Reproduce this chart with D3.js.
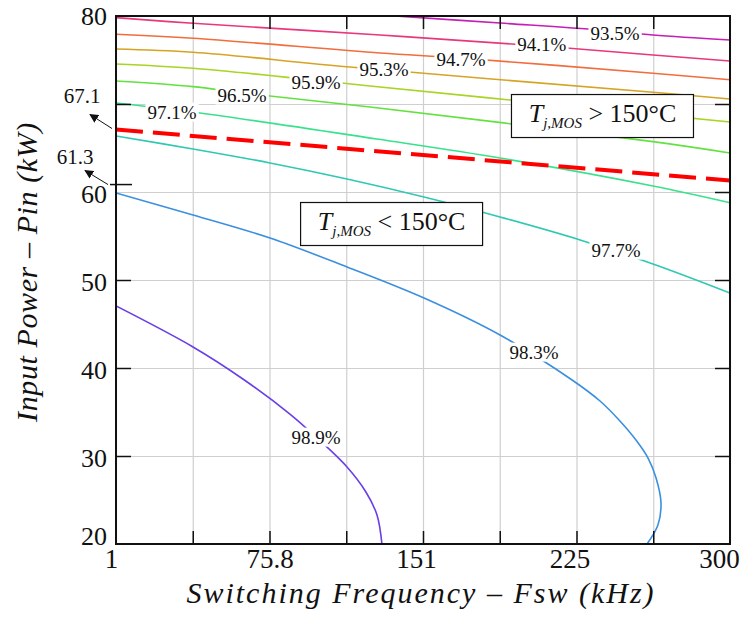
<!DOCTYPE html>
<html>
<head>
<script src="https://d3js.org/d3.v7.min.js"></script>
<style>
    body { margin: 0; background: #fff; }
    text { font-family: "Liberation Serif", "Times New Roman", serif; fill: #111; }
    .grid line { stroke: #cfcfcf; stroke-width: 1.2px; }
    .grid path { display: none; }
    .ticks line { stroke: #111; stroke-width: 1.5px; }
    .ticks path { display: none; }
    .ticks text { display: none; }
</style>
</head>
<body>
<svg id="chart" width="744" height="618"></svg>
<script>
// efficiency levels and colours of the contour lines
var levels = ["93.5", "94.1", "94.7", "95.3", "95.9", "96.5", "97.1", "97.7", "98.3", "98.9"];
var lineColors = ["#c51fb6", "#e8387c", "#f26d3d", "#d6a424", "#a8d424", "#62e23e", "#38e28c", "#2fc8b2", "#3b8fe0", "#6a3fe6"];

// contour traces [frequency kHz, power kW]
var c935 = [[136.9, 80], [188.0, 79.2], [236.7, 78.41], [262.5, 77.84], [300, 77.27]];
var c941 = [[1, 79.81], [38.5, 79.17], [129.6, 77.84], [208.4, 76.59], [262.5, 75.57], [300, 74.89]];
var c947 = [[1, 77.92], [38.5, 77.47], [129.6, 75.8], [168.5, 75.23], [262.5, 73.49], [300, 72.76]];
var c953 = [[1, 76.25], [38.5, 75.88], [114.9, 74.2], [262.5, 71.33], [300, 70.57]];
var c959 = [[1, 74.55], [38.5, 74.06], [96.9, 72.73], [124.7, 72.05], [212.3, 70.0], [300, 67.95]];
var c965 = [[1, 72.61], [38.5, 71.97], [62.4, 71.25], [124.7, 69.66], [262.5, 65.72], [300, 64.43]];
var c971 = [[1, 70.11], [41.9, 68.98], [128.1, 66.02], [188.0, 63.86], [262.5, 60.68], [300, 58.78]];
var c977 = [[1, 66.36], [38.5, 64.89], [76.0, 63.3], [113.5, 61.48], [151.0, 59.43], [188.0, 57.16],
            [227.0, 54.55], [262.5, 51.82], [300, 48.52]];
var c983 = [[1, 59.89], [38.5, 57.39], [76.0, 54.77], [113.5, 51.48], [151.0, 47.95], [188.0, 43.75],
            [223.1, 38.64], [236.7, 36.25], [246.4, 33.98], [254.2, 31.82], [260.1, 29.77],
            [264.0, 27.5], [266.4, 24.66], [264.9, 22.16], [259.6, 20.0]];
var c989 = [[1, 47.05], [38.5, 42.39], [62.8, 38.75], [85.7, 34.77], [98.4, 32.16], [113.5, 28.75],
            [122.7, 25.91], [128.1, 23.3], [130.5, 20.0]];
var contours = [c935, c941, c947, c953, c959, c965, c971, c977, c983, c989];

// where each level's label sits
var labelFreq = [244.0, 208.4, 169.0, 131.5, 98.4, 62.4, 28.3, 244.5, 204.6, 98.4];
var labelPower = [78.07, 76.82, 75.11, 73.98, 72.5, 71.02, 69.09, 53.41, 41.82, 32.16];

// 150 degC junction temperature limit
var limitFreq = [1, 300];
var limitPower = [67.1, 61.3];

// axes
var xGrid = [1, 38.375, 75.75, 113.125, 150.5, 187.875, 225.25, 262.625, 300];
var xLabels = ["1", "", "75.8", "", "151", "", "225", "", "300"];
var xLabelShift = [-5, 0, 0, 0, -7, 0, -7, 0, -11];
var yGrid = [20, 30, 40, 50, 60, 70, 80];
var yLabels = [20, 30, 40, 50, 60, 80];

var margin = {top: 16, right: 14, bottom: 74, left: 116};
var svg = d3.select("#chart");
var width = 744 - margin.left - margin.right,
    height = 618 - margin.top - margin.bottom;

var x = d3.scaleLinear().domain([1, 300]).range([0, width]);
var y = d3.scaleLinear().domain([20, 80]).range([height, 0]);

var g = svg.append("g").attr("transform", "translate(" + margin.left + "," + margin.top + ")");

g.append("defs").append("clipPath").attr("id", "plotClip")
    .append("rect").attr("width", width).attr("height", height);
var marker = svg.append("defs").append("marker")
    .attr("id", "arrow").attr("viewBox", "0 0 10 10")
    .attr("refX", 9).attr("refY", 5)
    .attr("markerWidth", 9).attr("markerHeight", 9)
    .attr("orient", "auto-start-reverse")
    .attr("markerUnits", "userSpaceOnUse");
marker.append("path").attr("d", "M0,0 L10,5 L0,10 z").attr("fill", "#111");

// grid
g.append("g").attr("class", "grid")
    .attr("transform", "translate(0," + height + ")")
    .call(d3.axisBottom(x).tickValues(xGrid).tickSize(-height).tickFormat(""));
g.append("g").attr("class", "grid")
    .call(d3.axisLeft(y).tickValues(yGrid).tickSize(-width).tickFormat(""));

// contours
var line = d3.line().x(d => x(d[0])).y(d => y(d[1])).curve(d3.curveCatmullRom);
var plot = g.append("g").attr("clip-path", "url(#plotClip)");
plot.selectAll("path.contour")
    .data(contours)
    .join("path")
    .attr("class", "contour")
    .attr("d", line)
    .attr("fill", "none")
    .attr("stroke", (d, i) => lineColors[i])
    .attr("stroke-width", 1.6);

// threshold line
plot.append("path")
    .attr("d", line.curve(d3.curveLinear)(limitFreq.map((f, i) => [f, limitPower[i]])))
    .attr("fill", "none")
    .attr("stroke", "#ff0000")
    .attr("stroke-width", 4)
    .attr("stroke-dasharray", "27,10");

// contour labels with white background
var labels = g.append("g").selectAll("g")
    .data(levels)
    .join("g")
    .attr("transform", (d, i) => "translate(" + x(labelFreq[i]) + "," + y(labelPower[i]) + ")");
labels.append("rect").attr("fill", "#fff");
labels.append("text")
    .attr("text-anchor", "middle")
    .attr("dy", "0.35em")
    .style("font-family", "'Liberation Serif', serif")
    .style("font-size", "19px")
    .text(d => d + "%");
labels.each(function () {
    var grp = d3.select(this);
    var bb = grp.select("text").node().getBBox();
    grp.select("rect").attr("x", bb.x - 2).attr("y", bb.y + 1)
        .attr("width", bb.width + 4).attr("height", bb.height - 2);
});

// inward tick marks on all four sides
g.append("g").attr("class", "ticks").attr("transform", "translate(0," + height + ")")
    .call(d3.axisTop(x).tickValues(xGrid.slice(1, -1)).tickSize(13));
g.append("g").attr("class", "ticks")
    .call(d3.axisBottom(x).tickValues(xGrid.slice(1, -1)).tickSize(13));
g.append("g").attr("class", "ticks")
    .call(d3.axisRight(y).tickValues([30, 40, 50, 70]).tickSize(15));
g.append("g").attr("class", "ticks").attr("transform", "translate(" + width + ",0)")
    .call(d3.axisLeft(y).tickValues([30, 40, 50, 60, 70]).tickSize(15));

// frame
g.append("rect").attr("width", width).attr("height", height)
    .attr("fill", "none").attr("stroke", "#111").attr("stroke-width", 2);

// tick labels
var xAxis = g.append("g").attr("transform", "translate(0," + height + ")")
    .call(d3.axisBottom(x).tickValues(xGrid).tickSize(0).tickPadding(5)
        .tickFormat((d, i) => xLabels[i]));
xAxis.select(".domain").remove();
xAxis.selectAll("text").attr("dx", (d, i) => xLabelShift[i])
    .style("font-size", "27px").style("font-family", "Liberation Serif").attr("fill", "#111");

var yAxis = g.append("g")
    .call(d3.axisLeft(y).tickValues(yLabels).tickSize(0).tickPadding(9));
yAxis.select(".domain").remove();
yAxis.selectAll("text")
    .attr("dy", d => d === 20 ? "0.0em" : (d === 80 ? "0.32em" : "0.4em"))
    .style("font-size", "26px").style("font-family", "Liberation Serif").attr("fill", "#111");

// limit markers at the left edge
var y1 = y(limitPower[0]), y2 = y(limitPower[1]);
g.append("line").attr("x1", -4).attr("y1", y1 - 1).attr("x2", -26).attr("y2", y1 - 15)
    .attr("stroke", "#111").attr("stroke-width", 1).attr("marker-end", "url(#arrow)");
g.append("text").attr("x", -34).attr("y", y1 - 27).attr("text-anchor", "middle")
    .style("font-size", "21px").text(limitPower[0].toFixed(1));
g.append("line").attr("x1", -8).attr("y1", y2 + 4).attr("x2", -31).attr("y2", y2 - 10)
    .attr("stroke", "#111").attr("stroke-width", 1).attr("marker-end", "url(#arrow)");
g.append("line").attr("x1", -6).attr("y1", y2 + 4).attr("x2", 16).attr("y2", y2 + 4)
    .attr("stroke", "#111").attr("stroke-width", 1.5);
g.append("text").attr("x", -41).attr("y", y2 - 17).attr("text-anchor", "middle")
    .style("font-size", "21px").text(limitPower[1].toFixed(1));

// temperature region boxes
function tempBox(cx, cy, sign) {
    var b = g.append("g").attr("transform", "translate(" + x(cx) + "," + y(cy) + ")");
    var r = b.append("rect").attr("fill", "#fff").attr("stroke", "#111").attr("stroke-width", 1.2);
    var t = b.append("text").attr("text-anchor", "middle").attr("dy", "0.25em").style("font-size", "26px");
    t.append("tspan").style("font-style", "italic").text("T");
    t.append("tspan").style("font-style", "italic").style("font-size", "15px").attr("dy", 6).text("j,MOS");
    t.append("tspan").attr("dy", -6).text(" " + sign + " 150°C");
    r.attr("x", -91).attr("y", -21).attr("width", 182).attr("height", 43);
}
tempBox(237.9, 68.69, ">");
tempBox(135.2, 56.42, "<");

// axis titles
svg.append("text")
    .attr("x", margin.left + width / 2 - 2).attr("y", 603)
    .attr("text-anchor", "middle")
    .style("font-size", "30px").style("font-style", "italic").style("letter-spacing", "2px")
    .text("Switching Frequency – Fsw (kHz)");
svg.append("text")
    .attr("transform", "translate(37,272) rotate(-90)")
    .attr("text-anchor", "middle")
    .style("font-size", "30px").style("font-style", "italic").style("letter-spacing", "0.6px")
    .text("Input Power – Pin (kW)");
</script>
</body>
</html>
